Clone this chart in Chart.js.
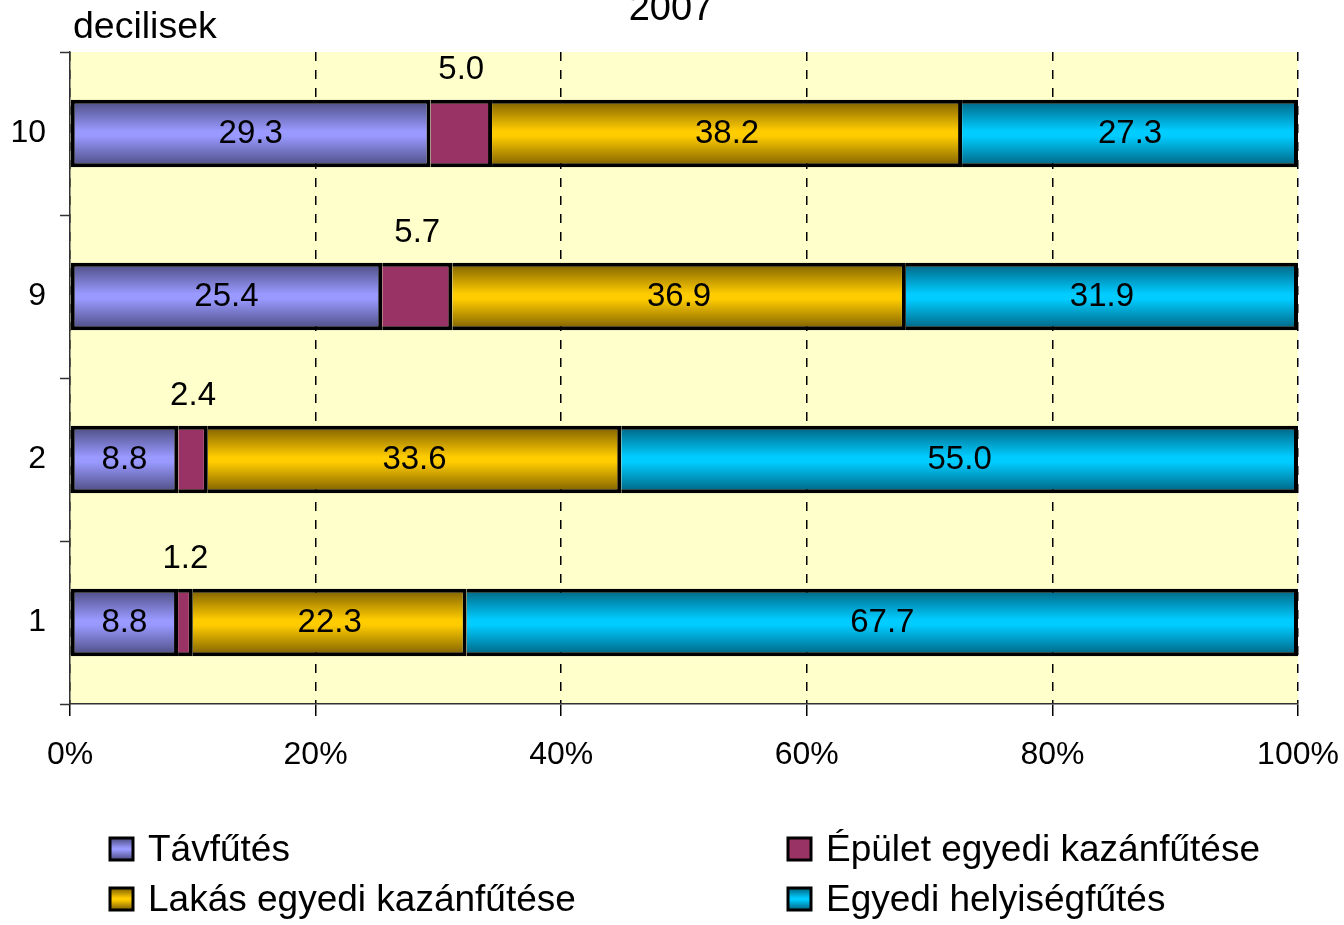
<!DOCTYPE html>
<html>
<head>
<meta charset="utf-8">
<script src="https://cdn.jsdelivr.net/npm/chart.js@4/dist/chart.umd.min.js"></script>
<style>
  html, body { margin: 0; padding: 0; background: #fff; }
</style>
</head>
<body>
<canvas id="chart" width="1344" height="925"></canvas>
<script>
// data
const deciles = ['10', '9', '2', '1'];
const tavfutes = [29.3, 25.4, 8.8, 8.8];
const epuletKazan = [5.0, 5.7, 2.4, 1.2];
const lakasKazan = [38.2, 36.9, 33.6, 22.3];
const helyisegFutes = [27.3, 31.9, 55.0, 67.7];
const seriesNames = ['Távfűtés', 'Épület egyedi kazánfűtése', 'Lakás egyedi kazánfűtése', 'Egyedi helyiségfűtés'];
const chartTitle = '2007';
const axisTitle = 'decilisek';

const FONT = "'Liberation Sans', Arial, sans-serif";
const BAR_PCT = 0.415;

// light = middle of the bar, dark = top/bottom edge
const palette = [
    { light: '#9999FF', dark: '#4A4A7E' },
    { light: '#993366', dark: '#993366' },
    { light: '#FFCC00', dark: '#7A5C00' },
    { light: '#00CCFF', dark: '#00607E' },
];

const seriesValues = [tavfutes, epuletKazan, lakasKazan, helyisegFutes];
const totals = deciles.map((d, i) => seriesValues.reduce((s, arr) => s + arr[i], 0));

function bandFill(ctx2d, idx, top, height) {
    const p = palette[idx];
    const g = ctx2d.createLinearGradient(0, top, 0, top + height);
    g.addColorStop(0, p.dark);
    g.addColorStop(0.46, p.light);
    g.addColorStop(0.54, p.light);
    g.addColorStop(1, p.dark);
    return g;
}

function barFill(idx) {
    return (ctx) => {
        const chart = ctx.chart;
        const y = chart.scales && chart.scales.y;
        if (!y || ctx.dataIndex === undefined || !chart.chartArea) return palette[idx].light;
        const step = Math.abs(y.getPixelForValue(1) - y.getPixelForValue(0));
        const h = step * BAR_PCT;
        const c = y.getPixelForValue(ctx.dataIndex);
        return bandFill(chart.ctx, idx, c - h / 2, h);
    };
}

const datasets = seriesValues.map((arr, idx) => ({
    label: seriesNames[idx],
    data: arr.map((v, i) => v / totals[i] * 100),
    raw: arr,
    backgroundColor: barFill(idx),
    borderColor: '#000',
    borderWidth: 4,
    // one divider between segments, not two
    borderSkipped: idx === 0 ? false : 'start',
    barPercentage: BAR_PCT,
    categoryPercentage: 1.0,
}));

const plotBackground = {
    id: 'plotBackground',
    beforeDraw(chart) {
        const { ctx, chartArea: a } = chart;
        ctx.save();
        ctx.fillStyle = '#FFFFCC';
        ctx.fillRect(a.left, a.top, a.right - a.left, a.bottom - a.top);
        ctx.restore();
    },
};

const valueLabels = {
    id: 'valueLabels',
    afterDatasetsDraw(chart) {
        const ctx = chart.ctx;
        ctx.save();
        ctx.font = '33px ' + FONT;
        ctx.fillStyle = '#000';
        ctx.textAlign = 'center';
        chart.data.datasets.forEach((ds, di) => {
            const meta = chart.getDatasetMeta(di);
            meta.data.forEach((bar, i) => {
                const { x, y, base, height } = bar.getProps(['x', 'y', 'base', 'height'], true);
                const cx = (x + base) / 2;
                const txt = ds.raw[i].toFixed(1);
                if (di === 1) {
                    ctx.textBaseline = 'alphabetic';
                    ctx.fillText(txt, cx, y - height / 2 - 21);
                } else {
                    ctx.textBaseline = 'middle';
                    ctx.fillText(txt, cx, y);
                }
            });
        });
        ctx.restore();
    },
};

const extraText = {
    id: 'extraText',
    afterDraw(chart) {
        const ctx = chart.ctx;
        ctx.save();
        ctx.fillStyle = '#000';
        ctx.textBaseline = 'alphabetic';
        ctx.textAlign = 'center';
        ctx.font = '38px ' + FONT;
        ctx.fillText(chartTitle, 671, 20);
        ctx.textAlign = 'left';
        ctx.font = '37.5px ' + FONT;
        ctx.fillText(axisTitle, 73, 38);

        // legend, two columns
        const colX = [110, 788];
        const rowY = [838, 888];
        chart.data.datasets.forEach((ds, i) => {
            const bx = colX[i % 2];
            const by = rowY[Math.floor(i / 2)];
            ctx.fillStyle = bandFill(ctx, i, by, 22);
            ctx.fillRect(bx, by, 23, 22);
            ctx.lineWidth = 3;
            ctx.strokeStyle = '#000';
            ctx.strokeRect(bx, by, 23, 22);
            ctx.fillStyle = '#000';
            ctx.font = '37px ' + FONT;
            ctx.fillText(ds.label, bx + 38, by + 23);
        });
        ctx.restore();
    },
};

new Chart(document.getElementById('chart'), {
    type: 'bar',
    data: { labels: deciles, datasets },
    plugins: [plotBackground, valueLabels, extraText],
    options: {
        indexAxis: 'y',
        responsive: false,
        animation: false,
        layout: { padding: { top: 52, right: 46, bottom: 151, left: 0 } },
        plugins: {
            legend: { display: false },
            title: { display: false },
            tooltip: { enabled: false },
        },
        scales: {
            x: {
                stacked: true,
                min: 0,
                max: 100,
                ticks: {
                    stepSize: 20,
                    callback: (v) => v + '%',
                    color: '#000',
                    font: { size: 32, family: FONT },
                    padding: 20,
                    maxRotation: 0,
                },
                grid: {
                    color: '#000',
                    lineWidth: 1.5,
                    drawTicks: true,
                    tickLength: 12,
                    tickColor: '#000',
                    tickWidth: 1.5,
                },
                border: { display: true, color: '#333', width: 1.5, dash: [9, 9] },
                afterFit: (s) => {
                    s.height = 70;
                    s.paddingLeft = 0;
                    s.paddingRight = 0;
                },
            },
            y: {
                stacked: true,
                grid: {
                    drawOnChartArea: false,
                    drawTicks: true,
                    offset: true,
                    tickLength: 10,
                    tickColor: '#333',
                    tickWidth: 1.5,
                },
                border: { display: true, color: '#333', width: 1.5 },
                ticks: { color: '#000', font: { size: 32, family: FONT }, padding: 14 },
                afterFit: (s) => { s.width = 70; },
            },
        },
    },
});
</script>
</body>
</html>
